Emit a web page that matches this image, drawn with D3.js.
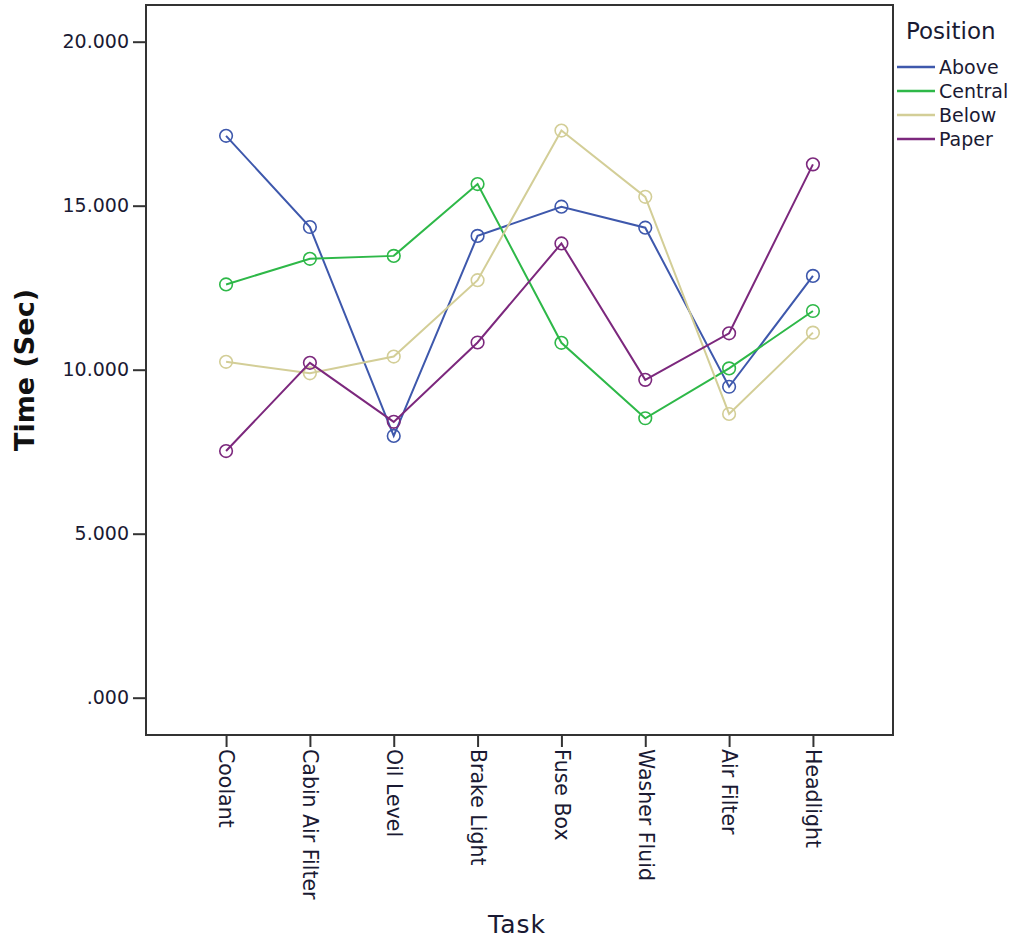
<!DOCTYPE html>
<html>
<head>
<meta charset="utf-8">
<script src="https://cdn.jsdelivr.net/npm/d3@7"></script>
<style>
  html, body { margin: 0; padding: 0; background: #fff; }
  svg { display: block; }
  text { font-family: "DejaVu Sans", sans-serif; }
</style>
</head>
<body>
<svg id="chart" width="1015" height="941"></svg>
<script>
// ---- data ----
const tasks = ["Coolant", "Cabin Air Filter", "Oil Level", "Brake Light", "Fuse Box", "Washer Fluid", "Air Filter", "Headlight"];
const seriesNames = ["Above", "Central", "Below", "Paper"];
const above   = [17.13, 14.35, 7.98, 14.08, 14.97, 14.33, 9.48, 12.86];
const central = [12.60, 13.38, 13.47, 15.66, 10.82, 8.52, 10.04, 11.79];
const below   = [10.24, 9.89, 10.40, 12.73, 17.29, 15.27, 8.65, 11.13];
const paper   = [7.52, 10.21, 8.41, 10.83, 13.85, 9.69, 11.11, 16.26];
const yTicks = [0, 5, 10, 15, 20];
const yTickLabels = [".000", "5.000", "10.000", "15.000", "20.000"];
const colors = ["#3E58AC", "#2EB848", "#D3CE97", "#7C287D"];
const seriesValues = [above, central, below, paper];

// ---- layout ----
const svg = d3.select("#chart");
const plot = { left: 146, right: 893, top: 5, bottom: 735 };

const x = d3.scalePoint().domain(tasks).range([plot.left, plot.right]).padding(0.955);
const y = d3.scaleLinear().domain([0, 20]).range([697.7, 41.7]);

// frame
svg.append("rect")
  .attr("x", plot.left).attr("y", plot.top)
  .attr("width", plot.right - plot.left).attr("height", plot.bottom - plot.top)
  .attr("fill", "none").attr("stroke", "#333").attr("stroke-width", 2);

// y axis
const yAxis = d3.axisLeft(y).tickValues(yTicks)
  .tickFormat((d, i) => yTickLabels[i]).tickSize(13).tickPadding(4);
const gy = svg.append("g").attr("transform", `translate(${plot.left},0)`).call(yAxis);
gy.select(".domain").remove();
gy.selectAll(".tick line").attr("stroke", "#333").attr("stroke-width", 2);
gy.selectAll(".tick text").attr("font-size", 19).attr("fill", "#1a1a33")
  .style("font-family", "DejaVu Sans, sans-serif");

// x axis
const xAxis = d3.axisBottom(x).tickSize(12).tickPadding(0);
const gx = svg.append("g").attr("transform", `translate(0,${plot.bottom})`).call(xAxis);
gx.select(".domain").remove();
gx.selectAll(".tick line").attr("stroke", "#333").attr("stroke-width", 2);
gx.selectAll(".tick text")
  .attr("font-size", 20.5).attr("fill", "#1a1a33")
  .style("font-family", "DejaVu Sans, sans-serif")
  .attr("text-anchor", "start")
  .attr("transform", "translate(0,14) rotate(90)")
  .attr("x", 0).attr("y", 0).attr("dy", "0.35em");

// axis titles
svg.append("text")
  .attr("transform", `translate(34,370) rotate(-90)`)
  .attr("text-anchor", "middle")
  .attr("font-size", 27).attr("font-weight", "bold").attr("fill", "#111")
  .text("Time (Sec)");

svg.append("text")
  .attr("x", 517).attr("y", 933)
  .attr("text-anchor", "middle")
  .attr("font-size", 25).attr("letter-spacing", 1).attr("fill", "#1a1a33")
  .text("Task");

// lines + markers
const line = d3.line().x((d, i) => x(tasks[i])).y(d => y(d));
seriesValues.forEach((vals, s) => {
  const g = svg.append("g");
  g.append("path")
    .attr("d", line(vals))
    .attr("fill", "none").attr("stroke", colors[s]).attr("stroke-width", 2);
  g.selectAll("circle").data(vals).enter().append("circle")
    .attr("cx", (d, i) => x(tasks[i])).attr("cy", d => y(d))
    .attr("r", 6.3).attr("fill", "none")
    .attr("stroke", colors[s]).attr("stroke-width", 1.6);
});

// legend
svg.append("text")
  .attr("x", 906).attr("y", 39)
  .attr("font-size", 23).attr("fill", "#1a1a33")
  .text("Position");
const leg = svg.append("g");
seriesNames.forEach((name, i) => {
  const yy = 67 + i * 24;
  leg.append("line")
    .attr("x1", 897).attr("x2", 935).attr("y1", yy).attr("y2", yy)
    .attr("stroke", colors[i]).attr("stroke-width", 2.5);
  leg.append("text")
    .attr("x", 939).attr("y", yy).attr("dy", "0.35em")
    .attr("font-size", 19).attr("fill", "#1a1a33")
    .text(name);
});
</script>
</body>
</html>
